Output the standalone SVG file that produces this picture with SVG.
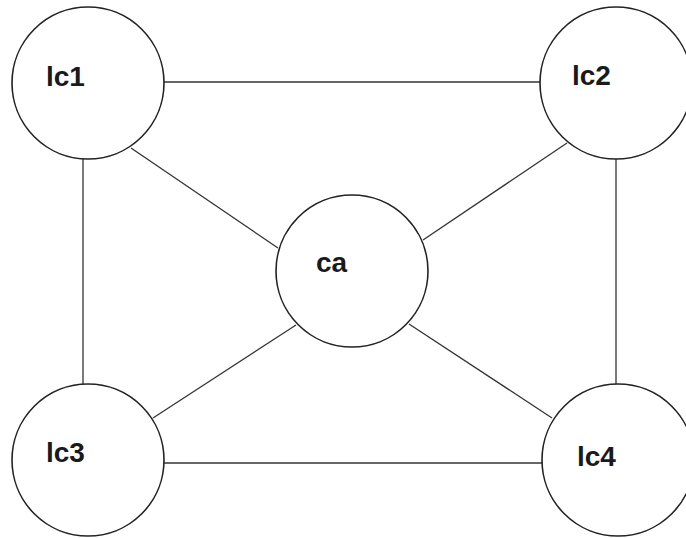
<svg xmlns="http://www.w3.org/2000/svg" width="686" height="538" viewBox="0 0 686 538">
  <style>
    .node circle { fill: #ffffff; stroke: #222222; stroke-width: 1.6; }
    .node text { font-family: "Liberation Sans", Arial, sans-serif; font-weight: bold; font-size: 28px; fill: #1a1a1a; }
    #edges line { stroke: #333333; stroke-width: 1.3; }
  </style>
  <rect width="686" height="538" fill="#ffffff"/>
  <g id="edges">
    <line x1="164" y1="82" x2="540" y2="82"/>
    <line x1="164" y1="463" x2="542" y2="463"/>
    <line x1="83" y1="159" x2="83" y2="384"/>
    <line x1="616" y1="159" x2="616" y2="384"/>
    <line x1="131" y1="148" x2="278" y2="248"/>
    <line x1="567" y1="143" x2="423" y2="240"/>
    <line x1="153" y1="418" x2="296" y2="325"/>
    <line x1="552" y1="418" x2="409" y2="324"/>
  </g>
  <g id="lc1" class="node">
    <circle cx="88" cy="83" r="76"/>
    <text x="46" y="86">lc1</text>
  </g>
  <g id="lc2" class="node">
    <circle cx="616" cy="83" r="76"/>
    <text x="572" y="85">lc2</text>
  </g>
  <g id="lc3" class="node">
    <circle cx="88" cy="460" r="76"/>
    <text x="46" y="462">lc3</text>
  </g>
  <g id="lc4" class="node">
    <circle cx="618" cy="460" r="76"/>
    <text x="577" y="466">lc4</text>
  </g>
  <g id="ca" class="node">
    <circle cx="352" cy="271" r="76"/>
    <text x="316" y="272">ca</text>
  </g>
</svg>
